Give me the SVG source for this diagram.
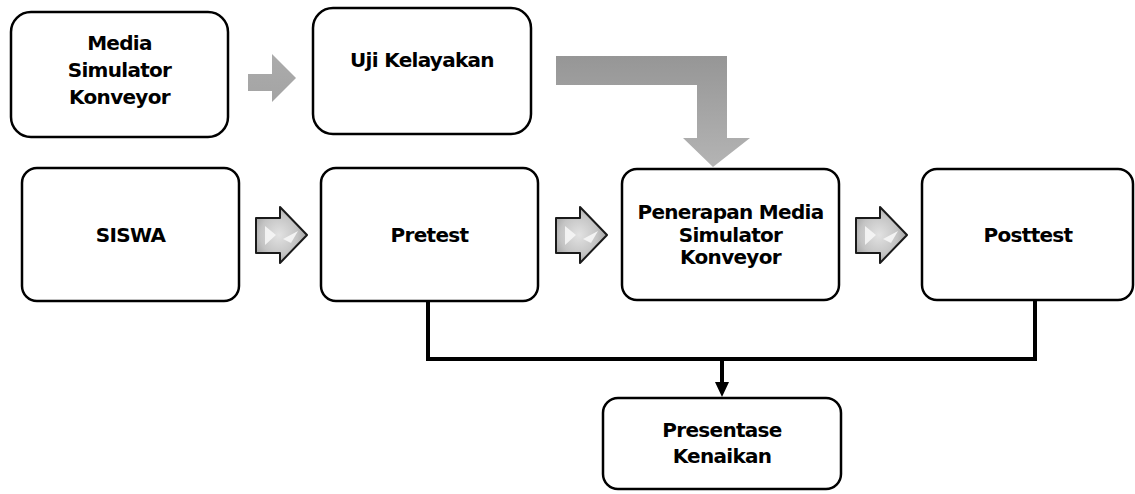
<svg xmlns="http://www.w3.org/2000/svg" width="1135" height="494" viewBox="0 0 1135 494">
<style>
.box{fill:#fff;stroke:#000;stroke-width:2.5}
.t{font-family:"DejaVu Sans","Liberation Sans",sans-serif;font-weight:bold;font-size:20px;letter-spacing:-0.7px;fill:#000;text-anchor:middle}
.conn{fill:none;stroke:#000;stroke-width:4}
.sa{fill:url(#sg);stroke:#1a1a1a;stroke-width:2;stroke-linejoin:round}
.hl{fill:#f6f6f6;opacity:0.9}
</style>
<defs>
<linearGradient id="bg" x1="0" y1="56" x2="0" y2="167" gradientUnits="userSpaceOnUse">
<stop offset="0" stop-color="#969696"/>
<stop offset="1" stop-color="#b4b4b4"/>
</linearGradient>
<linearGradient id="g1" x1="0" y1="0" x2="0" y2="1">
<stop offset="0" stop-color="#ababab"/>
<stop offset="1" stop-color="#a4a4a4"/>
</linearGradient>
<radialGradient id="sg" cx="0.45" cy="0.5" r="0.6">
<stop offset="0" stop-color="#e2e2e2"/>
<stop offset="0.6" stop-color="#c4c4c4"/>
<stop offset="1" stop-color="#9a9a9a"/>
</radialGradient>
</defs>

<g id="connectors">
<path d="M556,56 L727,56 L727,138 L750,138 L713,167 L683,138 L697,138 L697,85 L556,85 Z" fill="url(#bg)"/>
<path d="M248,74 L272,74 L272,54 L296,78 L272,102 L272,91 L248,91 Z" fill="url(#g1)"/>
<g id="sa1">
<path class="sa" d="M256,218 L280,218 L280,207 L307,235 L280,263 L280,253 L256,253 Z"/>
<path class="hl" d="M265,226 L276,235 L265,245 Z"/>
<path class="hl" d="M283,239 L298,231 L291,243 Z"/>
</g>
<g id="sa2">
<path class="sa" d="M556,218 L580,218 L580,207 L607,235 L580,263 L580,253 L556,253 Z"/>
<path class="hl" d="M565,226 L576,235 L565,245 Z"/>
<path class="hl" d="M583,239 L598,231 L591,243 Z"/>
</g>
<g id="sa3">
<path class="sa" d="M856,218 L880,218 L880,207 L907,235 L880,263 L880,253 L856,253 Z"/>
<path class="hl" d="M865,226 L876,235 L865,245 Z"/>
<path class="hl" d="M883,239 L898,231 L891,243 Z"/>
</g>
<path class="conn" d="M428,301 L428,359 L1035,359 L1035,301"/>
<line x1="722" y1="359" x2="722" y2="384" stroke="#000" stroke-width="4"/>
<path d="M715,382 L729,382 L722,397 Z" fill="#000"/>
</g>

<g id="media">
<rect class="box" x="11" y="12" width="217" height="125" rx="20"/>
<text class="t" x="119.5" y="50">Media</text>
<text class="t" x="119.5" y="77">Simulator</text>
<text class="t" x="119.5" y="104">Konveyor</text>
</g>
<g id="uji">
<rect class="box" x="313" y="8" width="218" height="126" rx="20"/>
<text class="t" x="422" y="67">Uji Kelayakan</text>
</g>
<g id="siswa">
<rect class="box" x="22" y="168" width="217" height="133" rx="15"/>
<text class="t" x="130.5" y="242">SISWA</text>
</g>
<g id="pretest">
<rect class="box" x="321" y="168" width="217" height="133" rx="15"/>
<text class="t" x="429.5" y="242">Pretest</text>
</g>
<g id="penerapan">
<rect class="box" x="622" y="169" width="217" height="131" rx="15"/>
<text class="t" x="730.5" y="219">Penerapan Media</text>
<text class="t" x="730.5" y="242">Simulator</text>
<text class="t" x="730.5" y="264">Konveyor</text>
</g>
<g id="posttest">
<rect class="box" x="922" y="169" width="211" height="131" rx="15"/>
<text class="t" x="1028" y="242">Posttest</text>
</g>
<g id="presentase">
<rect class="box" x="603" y="398" width="238" height="91" rx="15"/>
<text class="t" x="722" y="437">Presentase</text>
<text class="t" x="722" y="463">Kenaikan</text>
</g>
</svg>
